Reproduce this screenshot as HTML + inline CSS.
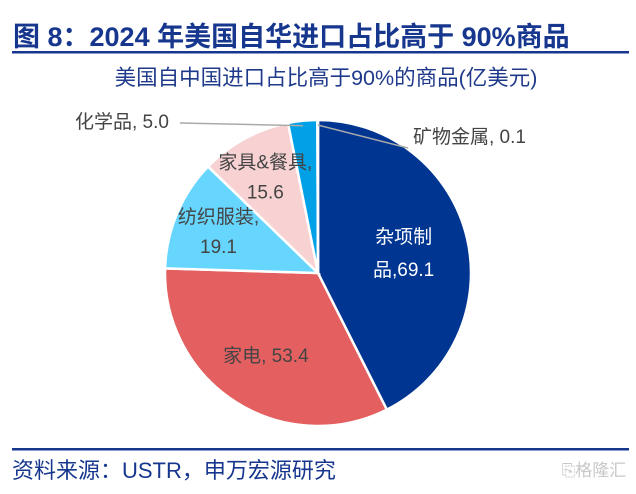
<!DOCTYPE html>
<html><head><meta charset="utf-8"><style>
body{margin:0;background:#fff;width:636px;height:489px;overflow:hidden;font-family:"Liberation Sans","Noto Sans CJK SC",sans-serif}
</style></head><body>
<svg id="c" width="636" height="489" xmlns="http://www.w3.org/2000/svg">
<text x="13" y="46" font-size="27" font-weight="bold" fill="#17378f">图 8：2024 年美国自华进口占比高于 90%商品</text>
<rect x="12" y="51" width="617" height="2.5" fill="#17378f"/>
<text x="326" y="85" font-size="21.5" fill="#1f3a8a" text-anchor="middle">美国自中国进口占比高于90%的商品(亿美元)</text>
<g id="pie"></g>
<rect x="12" y="448" width="617" height="2.5" fill="#17378f"/>
<text x="12" y="478" font-size="22" fill="#17378f">资料来源：USTR，申万宏源研究</text>
<text x="594" y="476" font-size="17" fill="#c8c8c8" text-anchor="middle">⎘格隆汇</text>
</svg>
<script>
const categories=["杂项制品","家电","纺织服装","家具&餐具","化学品","矿物金属"];
const values=[69.1,53.4,19.1,15.6,5.0,0.1];
const colors=["#003591","#e46060","#66d6ff","#f8d2d2","#00a1e6","#7f7f7f"];
const cx=318,cy=273,r=153,ns="http://www.w3.org/2000/svg";
const g=document.getElementById('pie');
const total=values.reduce((a,b)=>a+b,0);
let a0=0;
const pt=(a,rr)=>[cx+rr*Math.sin(a),cy-rr*Math.cos(a)];
const mids=[];
values.forEach((v,i)=>{
 const a1=a0+v/total*2*Math.PI;
 const p0=pt(a0,r),p1=pt(a1,r);
 const p=document.createElementNS(ns,'path');
 p.setAttribute('d',`M${cx},${cy}L${p0[0]},${p0[1]}A${r},${r} 0 ${a1-a0>Math.PI?1:0} 1 ${p1[0]},${p1[1]}Z`);
 p.setAttribute('fill',colors[i]);p.setAttribute('stroke','#fff');p.setAttribute('stroke-width','2.5');
 
 
 g.appendChild(p);mids.push((a0+a1)/2);a0=a1;
});
function txt(x,y,s,fill,anchor){const t=document.createElementNS(ns,'text');t.setAttribute('x',x);t.setAttribute('y',y);t.setAttribute('font-size','19');t.setAttribute('fill',fill);t.setAttribute('text-anchor',anchor||'middle');t.textContent=s;
 
 
 g.appendChild(t);return t;}
function lbl(i,rr,lines,fill,sp){const p=pt(mids[i],rr);lines.forEach((s,k)=>txt(p[0],p[1]+(k-(lines.length-1)/2)*sp+7,s,fill));}
const v=values.map(x=>x.toFixed(1));
lbl(0,88,["杂项制","品,"+v[0]],"#fff",33);
lbl(1,97,[categories[1]+", "+v[1]],"#444",30);
lbl(2,108,["纺织服装,",v[2]],"#444",30);
lbl(3,110,["家具&餐具,",v[3]],"#444",30);
function leader(i,x2,y2){const p=pt(mids[i],r-5);const l=document.createElementNS(ns,'line');l.setAttribute('x1',p[0]);l.setAttribute('y1',p[1]);l.setAttribute('x2',x2);l.setAttribute('y2',y2);l.setAttribute('stroke','#aaa');l.setAttribute('stroke-width','1.5');
 
 
 g.appendChild(l);}
leader(4,180,123);leader(5,408,148);
txt(75,128,categories[4]+", "+v[4],"#444","start");
txt(413,143,categories[5]+", "+v[5],"#444","start");
</script>
</body></html>
